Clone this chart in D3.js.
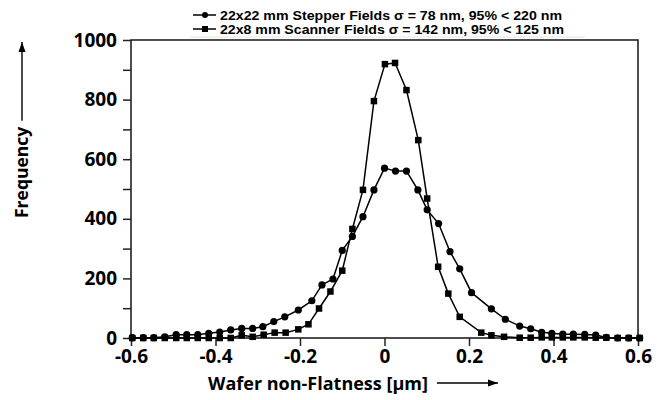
<!DOCTYPE html>
<html>
<head>
<meta charset="utf-8">
<script src="https://cdn.jsdelivr.net/npm/d3@7"></script>
<style>
  html, body { margin: 0; padding: 0; background: #fff; }
  svg { display: block; }
  text { font-family: "Open Sans", "DejaVu Sans", sans-serif; font-weight: 700; fill: #000; }
  .legend text { font-family: "Liberation Sans", Arial, sans-serif; }
</style>
</head>
<body>
<svg id="chart" width="669" height="400"></svg>
<script>
// Wafer non-flatness histograms (µm) for two field layouts
const stepperX = [-0.597,-0.571,-0.546,-0.520,-0.493,-0.468,-0.442,-0.416,-0.390,-0.364,-0.338,-0.312,-0.288,-0.262,-0.236,-0.204,-0.172,-0.148,-0.122,-0.100,-0.076,-0.051,-0.025,0.000,0.026,0.052,0.079,0.101,0.128,0.155,0.178,0.206,0.253,0.286,0.320,0.346,0.372,0.396,0.422,0.447,0.474,0.500,0.525,0.552,0.578,0.604];
const stepperY = [1,1,1,4,11,11,11,16,20,27,32,32,38,55,71,94,125,178,198,294,341,407,497,570,560,560,497,430,384,290,232,152,98,63,40,31,19,16,13,13,12,10,2,0,0,0];

const scannerX = [-0.597,-0.571,-0.546,-0.520,-0.493,-0.468,-0.442,-0.416,-0.390,-0.364,-0.338,-0.312,-0.286,-0.260,-0.234,-0.204,-0.180,-0.155,-0.128,-0.100,-0.076,-0.051,-0.025,0.001,0.025,0.052,0.080,0.101,0.127,0.151,0.178,0.229,0.253,0.283,0.320,0.346,0.372,0.396,0.422,0.447,0.474,0.500,0.525,0.552,0.578,0.604];
const scannerY = [0,0,0,0,0,0,0,0,0,0,9,4,11,18,18,29,46,99,156,226,366,497,795,919,923,832,664,468,239,149,71,18,9,4,1,1,2,2,2,2,2,1,1,0,0,0];

const seriesNames = [
  "22x22 mm Stepper Fields \u03C3 = 78 nm, 95% < 220 nm",
  "22x8 mm Scanner Fields \u03C3 = 142 nm, 95% < 125 nm"
];
const xTicks = [-0.6, -0.4, -0.2, 0, 0.2, 0.4, 0.6];
const xTickLabels = ["-0.6", "-0.4", "-0.2", "0", "0.2", "0.4", "0.6"];
const yTicks = [0, 200, 400, 600, 800, 1000];
const yMinorTicks = [100, 300, 500, 700, 900];
const xTitle = "Wafer non-Flatness [\u03BCm]";
const yTitle = "Frequency";

const svg = d3.select("#chart");
const plotLeft = 131, plotRight = 638, plotTop = 40, plotBottom = 338;

const x = d3.scaleLinear().domain([-0.6, 0.6]).range([plotLeft, plotRight]);
const y = d3.scaleLinear().domain([0, 1000]).range([plotBottom, plotTop]);

// arrowhead marker
svg.append("defs").append("marker")
  .attr("id", "arrow").attr("viewBox", "0 0 10 10")
  .attr("refX", 10).attr("refY", 5)
  .attr("markerWidth", 10).attr("markerHeight", 10)
  .attr("markerUnits", "userSpaceOnUse")
  .attr("orient", "auto")
  .append("path").attr("d", "M0,1.5 L10,5 L0,8.5 Z").attr("fill", "#000");

// frame
svg.append("rect")
  .attr("x", plotLeft).attr("y", plotTop)
  .attr("width", plotRight - plotLeft).attr("height", plotBottom - plotTop)
  .attr("fill", "none").attr("stroke", "#222").attr("stroke-width", 1.6);

// y axis
const yAxis = d3.axisLeft(y).tickValues(yTicks).tickSize(8).tickPadding(6).tickFormat(d3.format("d"));
const gy = svg.append("g").attr("transform", `translate(${plotLeft},0)`).call(yAxis);
gy.select(".domain").remove();
gy.selectAll(".tick line").attr("stroke", "#222").attr("stroke-width", 1.5);
gy.selectAll(".tick text").style("font-size", "19px");

svg.append("g").attr("transform", `translate(${plotLeft},0)`)
  .call(d3.axisLeft(y).tickValues(yMinorTicks).tickSize(8).tickFormat(""))
  .call(g => g.select(".domain").remove())
  .selectAll(".tick line").attr("stroke", "#222").attr("stroke-width", 1.5);

// x axis
const xAxis = d3.axisBottom(x).tickValues(xTicks).tickSize(8).tickPadding(4)
  .tickFormat((d, i) => xTickLabels[i]);
const gx = svg.append("g").attr("transform", `translate(0,${plotBottom})`).call(xAxis);
gx.select(".domain").remove();
gx.selectAll(".tick line").attr("stroke", "#222").attr("stroke-width", 1.5);
gx.selectAll(".tick text").style("font-size", "19px");

// axis titles with arrows
const xt = svg.append("text").attr("x", 208).attr("y", 390)
  .style("font-size", "18px").text(xTitle);
const xtw = xt.node().getComputedTextLength();
svg.append("line")
  .attr("x1", 208 + xtw + 9).attr("y1", 383)
  .attr("x2", 498).attr("y2", 383)
  .attr("stroke", "#000").attr("stroke-width", 1.4)
  .attr("marker-end", "url(#arrow)");

const yt = svg.append("text")
  .attr("transform", "translate(28,218) rotate(-90)")
  .style("font-size", "17.5px").text(yTitle);
const ytw = yt.node().getComputedTextLength();
svg.append("line")
  .attr("x1", 22).attr("y1", 218 - ytw - 6)
  .attr("x2", 22).attr("y2", 42)
  .attr("stroke", "#000").attr("stroke-width", 1.4)
  .attr("marker-end", "url(#arrow)");

// series
const stepper = stepperX.map((v, i) => ({ x: v, y: stepperY[i] }));
const scanner = scannerX.map((v, i) => ({ x: v, y: scannerY[i] }));
const line = d3.line().x(d => x(d.x)).y(d => y(d.y));

const plot = svg.append("g");
plot.append("path").datum(stepper).attr("d", line)
  .attr("fill", "none").attr("stroke", "#000").attr("stroke-width", 1.5);
plot.append("path").datum(scanner).attr("d", line)
  .attr("fill", "none").attr("stroke", "#000").attr("stroke-width", 1.5);

plot.selectAll("circle.pt").data(stepper).join("circle")
  .attr("class", "pt")
  .attr("cx", d => x(d.x)).attr("cy", d => y(d.y)).attr("r", 3.6)
  .attr("fill", "#000");
const sq = 6.5;
plot.selectAll("rect.pt").data(scanner).join("rect")
  .attr("class", "pt")
  .attr("x", d => x(d.x) - sq / 2).attr("y", d => y(d.y) - sq / 2)
  .attr("width", sq).attr("height", sq)
  .attr("fill", "#000");

// legend
const lg = svg.append("g").attr("class", "legend");
lg.append("line").attr("x1", 190).attr("x2", 585).attr("y1", 37).attr("y2", 37)
  .attr("stroke", "#e4e4e4").attr("stroke-width", 1);
seriesNames.forEach((name, i) => {
  const ly = 15 + i * 14;
  lg.append("line").attr("x1", 193).attr("x2", 216).attr("y1", ly).attr("y2", ly)
    .attr("stroke", "#000").attr("stroke-width", 1.5);
  if (i === 0) {
    lg.append("circle").attr("cx", 205).attr("cy", ly).attr("r", 3).attr("fill", "#000");
  } else {
    lg.append("rect").attr("x", 202).attr("y", ly - 3).attr("width", 6).attr("height", 6).attr("fill", "#000");
  }
  lg.append("text").attr("x", 220).attr("y", ly + 4.5)
    .attr("textLength", i === 0 ? 342 : 344).attr("lengthAdjust", "spacingAndGlyphs")
    .style("font-size", "12.5px").text(name);
});
</script>
</body>
</html>
